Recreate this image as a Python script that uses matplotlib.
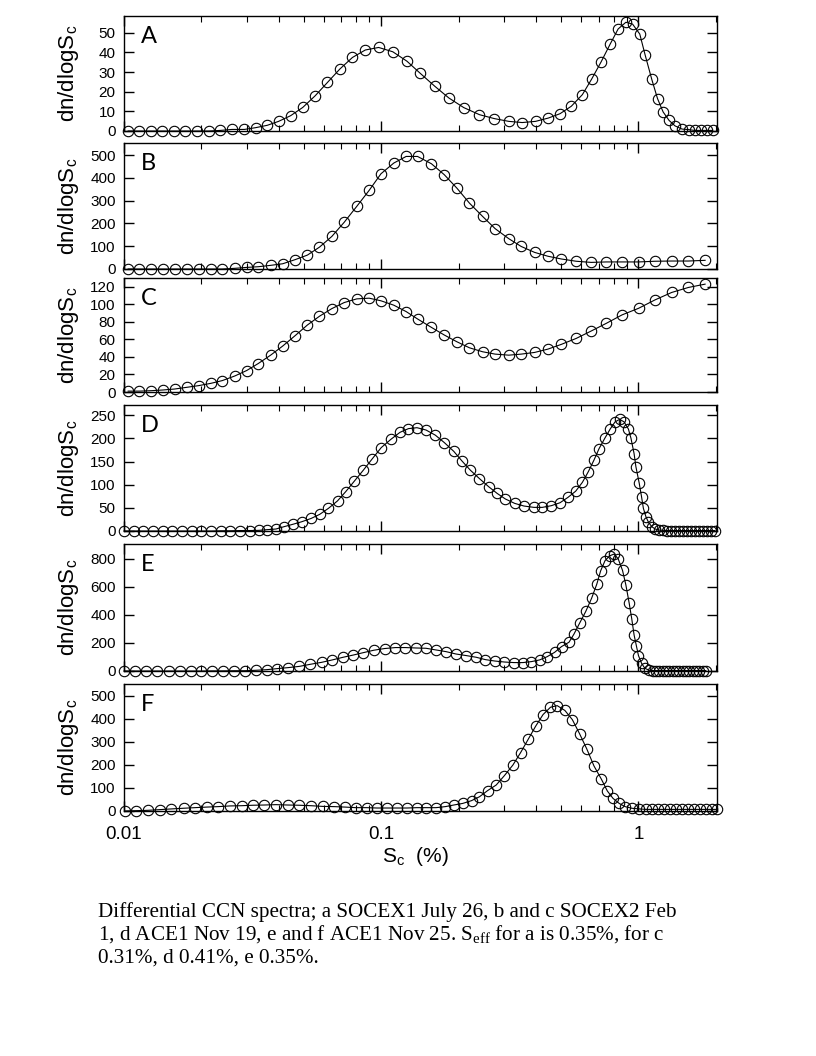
"""
Differential CCN spectra, six stacked panels (A-F) on a log S_c axis.
Output: out.png
"""

import matplotlib.pyplot as plt

plt.rcParams.update({
    "font.family": ["Liberation Sans", "DejaVu Sans"],
    "axes.linewidth": 1.0,
    "xtick.direction": "in",
    "ytick.direction": "in",
    "xtick.top": True,
    "ytick.right": True,
})

# -- Data (S_c in %, dn/dlogS_c) --
S_A = [0.01038, 0.01148, 0.01271, 0.01406, 0.01563, 0.01734, 0.01923, 0.02138,
       0.02371, 0.02630, 0.02938, 0.03251, 0.03606, 0.03990, 0.04446, 0.04955,
       0.05534, 0.06180, 0.06902, 0.07727, 0.08670, 0.09772, 0.1109, 0.1259,
       0.1419, 0.1614, 0.1832, 0.2094, 0.2410, 0.2754, 0.3133, 0.3532, 0.3981,
       0.4467, 0.4955, 0.5483, 0.6053, 0.6577, 0.7161, 0.7762, 0.8337, 0.8933,
       0.9484, 1.012, 1.062, 1.127, 1.186, 1.247, 1.315, 1.387, 1.476, 1.567,
       1.652, 1.746, 1.841, 1.941]
N_A = [0, 0, 0, 0, 0, 0, 0, 0, 0.3, 0.8, 0.8, 1.7, 2.9, 4.9, 7.8, 12, 17.9,
       24.7, 31.5, 37.4, 41.2, 42.5, 40.3, 35.5, 29.3, 22.8, 16.8, 11.9, 8.3,
       6.3, 4.9, 4.3, 4.9, 6.6, 8.8, 12.6, 18.5, 26.4, 35.2, 44.2, 51.9, 55.3,
       54.4, 49.3, 38.6, 26.2, 16.5, 9.7, 5.4, 2.6, 1.0, 0.7, 0.3, 0.3, 0.3, 0.3]

# SOCEX2 (B and C) share the same S_c grid
S_BC = [0.01038, 0.01148, 0.01276, 0.01419, 0.01574, 0.01750, 0.01954, 0.02178,
        0.02410, 0.02698, 0.02999, 0.03327, 0.03715, 0.04140, 0.04624, 0.05164,
        0.05754, 0.06427, 0.07178, 0.08035, 0.08974, 0.09977, 0.1119, 0.1250,
        0.1384, 0.1567, 0.1758, 0.1968, 0.2203, 0.2477, 0.2773, 0.3133, 0.3499,
        0.3945, 0.4446, 0.5012, 0.5728, 0.6546, 0.7499, 0.8630, 1.002, 1.159,
        1.346, 1.563, 1.816]
N_B = [0, 0, 0, 0, 0, 0, 0, 0, 0, 3, 7, 10, 16, 23, 41, 61, 96, 143, 205, 275,
       345, 418, 465, 494, 494, 462, 414, 355, 289, 231, 177, 133, 99, 73, 56,
       44, 34, 29, 31, 31, 31, 34, 35, 35, 38]
N_C = [1, 1, 1.5, 2.3, 3.4, 5.3, 7.3, 9.9, 13, 18.3, 24.5, 32.5, 42, 52.4, 64.2,
       76.4, 86.4, 95.1, 102, 106.2, 107, 104, 99, 91.7, 83.3, 73.7, 65, 57.3,
       50.4, 45.9, 43.2, 42, 43.2, 45.1, 48.9, 54.3, 61.1, 69.5, 78.3, 87.9,
       95.5, 105, 113.5, 119.2, 123]

S_D = [0.01, 0.01091, 0.01189, 0.01297, 0.01416, 0.01542, 0.01683, 0.01837,
       0.02000, 0.02183, 0.02382, 0.02594, 0.02831, 0.03090, 0.03350, 0.03606,
       0.03899, 0.04188, 0.04529, 0.04909, 0.05333, 0.05768, 0.06237, 0.06761,
       0.07278, 0.07870, 0.08511, 0.09204, 0.1, 0.1091, 0.1183, 0.1276, 0.1377,
       0.1493, 0.1622, 0.1758, 0.1914, 0.2061, 0.2223, 0.2410, 0.2618, 0.2825,
       0.3041, 0.3304, 0.3589, 0.3926, 0.4227, 0.4581, 0.4955, 0.5321, 0.5702,
       0.6053, 0.6383, 0.6714, 0.7031, 0.7396, 0.7762, 0.8110, 0.8453, 0.8790,
       0.9141, 0.9354, 0.9616, 0.9772, 1.007, 1.028, 1.045, 1.069, 1.094,
       1.127, 1.161, 1.205, 1.242, 1.288, 1.334, 1.384, 1.432, 1.486, 1.542,
       1.596, 1.656, 1.718, 1.778, 1.845, 1.910, 1.982]
N_D = [0, 0, 0, 0, 0, 0, 0, 0, 0, 0, 0.5, 0.5, 1, 1, 1.4, 2.9, 4.3, 9.3, 14.4,
       20, 27, 36, 49, 65, 85, 108, 131, 155, 180, 198, 213, 221, 223,
       218, 207, 191, 172, 151, 131, 113, 95.5, 81, 69, 59.6, 53.9, 51, 51,
       54.6, 61, 72.6, 86, 105, 128, 153, 178, 200, 220, 235.6, 241, 235.6,
       220, 200, 167, 139, 103, 74, 49, 31, 18.7, 9.3, 4.3, 2, 1.5,
       1, 1, 1, 1, 1, 1, 1, 1, 1, 1, 1, 1, 1]

S_E = [0.01, 0.01107, 0.01222, 0.01349, 0.01493, 0.01648, 0.01820, 0.02000,
       0.02203, 0.02432, 0.02685, 0.02951, 0.03251, 0.03589, 0.03945, 0.04345,
       0.04808, 0.05309, 0.05875, 0.06457, 0.07112, 0.07798, 0.08531, 0.09354,
       0.1030, 0.1135, 0.1242, 0.1365, 0.1493, 0.1633, 0.1786, 0.1954, 0.2138,
       0.2339, 0.2541, 0.2767, 0.3013, 0.3281, 0.3556, 0.3837, 0.4130, 0.4416,
       0.4721, 0.5023, 0.5370, 0.5610, 0.5902, 0.6237, 0.6577, 0.6887, 0.7129,
       0.7413, 0.7727, 0.8035, 0.8337, 0.8670, 0.8933, 0.9204, 0.9419, 0.9616,
       0.9817, 1.0, 1.028, 1.059, 1.102, 1.135, 1.169, 1.205, 1.242, 1.279,
       1.318, 1.358, 1.400, 1.442, 1.486, 1.531, 1.578, 1.626, 1.675, 1.726,
       1.778, 1.828]
N_E = [0, 0, 0, 0, 0, 0, 0, 0, 1, 1, 2, 2, 5, 9.5, 17, 24, 33, 48, 62, 79, 98,
       114, 131, 148, 160, 167, 167, 164,
       162, 150, 138, 121, 110, 98, 81, 71, 64, 60, 60, 67, 79, 102, 133, 174,
       205, 262, 340, 424, 519, 619, 714, 786, 821, 833, 800, 717, 614, 483,
       371, 257, 179, 110, 55, 19, 5, 3,
       3, 3, 3, 3, 3, 3, 3, 3, 3, 3, 3, 3, 3, 3, 3, 3]

S_F = [0.01012, 0.01117, 0.01242, 0.01377, 0.01528, 0.01706, 0.01884, 0.02094,
       0.02323, 0.02582, 0.02864, 0.03162, 0.03508, 0.03899, 0.04325, 0.04808,
       0.05333, 0.05929, 0.06577, 0.07244, 0.07962, 0.08790, 0.09616, 0.1052,
       0.1151, 0.1259, 0.1377, 0.1493, 0.1633, 0.1774, 0.1914, 0.2075, 0.2244,
       0.2410, 0.2594, 0.2799, 0.3013, 0.3251, 0.3483, 0.3724, 0.3981, 0.4256,
       0.4550, 0.4831, 0.5176, 0.5534, 0.5902, 0.6295, 0.6714, 0.7178, 0.7568,
       0.7962, 0.8414, 0.8872, 0.9419, 1.007, 1.069, 1.127, 1.189, 1.256,
       1.324, 1.396, 1.476, 1.556, 1.644, 1.734, 1.828, 1.932, 2.02]
N_F = [0, 1.5, 3, 6, 9, 12, 14.5, 17, 19, 22, 23, 25, 26, 27.6, 26, 25, 23, 20,
       19, 17, 14.5, 14.5, 13, 13, 13, 13, 14.5,
       14.5, 14.5, 19, 26, 33, 45, 62, 89, 113, 154, 200, 254, 311, 368, 419,
       451, 458, 437, 397, 336, 270, 196, 138, 87, 55, 33, 19, 12, 9, 7,
       7, 7, 7, 7, 7, 7, 7, 7, 7, 7, 7, 7]

LETTERS = ["A", "B", "C", "D", "E", "F"]
SERIES = [(S_A, N_A), (S_BC, N_B), (S_BC, N_C), (S_D, N_D), (S_E, N_E), (S_F, N_F)]
YMAX = [58.5, 553, 130, 272, 905, 552]
YSTEP = [10, 100, 20, 50, 200, 100]

CAPTION = [
    "Differential CCN spectra; a SOCEX1 July 26, b and c SOCEX2 Feb",
    r"1, d ACE1 Nov 19, e and f ACE1 Nov 25. S$_{\mathregular{eff}}$ for a is 0.35%, for c",
    "0.31%, d 0.41%, e 0.35%.",
]

# -- Layout (pixel positions of each panel in an 816x1056 canvas) --
W, H = 816, 1056
LEFT, RIGHT = 124, 717
TOPS = [16, 143, 278, 405, 544, 684]
BOTTOMS = [131, 269, 392, 531, 671, 811]

fig = plt.figure(figsize=(W / 100, H / 100), dpi=100)

for i, (letter, (s, n)) in enumerate(zip(LETTERS, SERIES)):
    rect = [LEFT / W, 1 - BOTTOMS[i] / H, (RIGHT - LEFT) / W,
            (BOTTOMS[i] - TOPS[i]) / H]
    ax = fig.add_axes(rect)
    ax.plot(s, n, color="black", linewidth=0.8, marker="o", markersize=7.5,
            markerfacecolor="none", markeredgecolor="black",
            markeredgewidth=0.8, clip_on=False, zorder=3)

    ax.set_xscale("log")
    ax.set_xlim(0.01, 2.02)
    ax.set_ylim(0, YMAX[i])
    ax.set_yticks(range(0, int(YMAX[i]) + 1, YSTEP[i]))
    ax.set_xticks([0.01, 0.1, 1])
    ax.tick_params(which="major", length=7, width=1.0)
    ax.tick_params(which="minor", length=4, width=0.8)
    ax.tick_params(axis="y", labelsize=11, pad=6)

    if i == len(LETTERS) - 1:
        ax.set_xticklabels(["0.01", "0.1", "1"])
        ax.tick_params(axis="x", labelsize=13.5, pad=11)
    else:
        ax.tick_params(axis="x", which="both", labelbottom=False)

    ax.set_ylabel(r"dn/dlogS$_\mathregular{c}$", fontsize=16)
    ax.yaxis.set_label_coords(-0.072, 0.5)

    ax.annotate(letter, xy=(0, 1), xycoords="axes fraction",
                xytext=(17, -10), textcoords="offset pixels",
                ha="left", va="top", fontsize=17, family="Lato")

fig.text(415 / W, 1 - 862 / H, r"S$_\mathregular{c}$  (%)",
         ha="center", va="baseline", fontsize=15)

for k, line in enumerate(CAPTION):
    fig.text(98 / W, 1 - (917 + 23 * k) / H, line, ha="left", va="baseline",
             fontsize=15.2, family=["Liberation Serif", "DejaVu Serif"])

fig.savefig("out.png", dpi=100)
